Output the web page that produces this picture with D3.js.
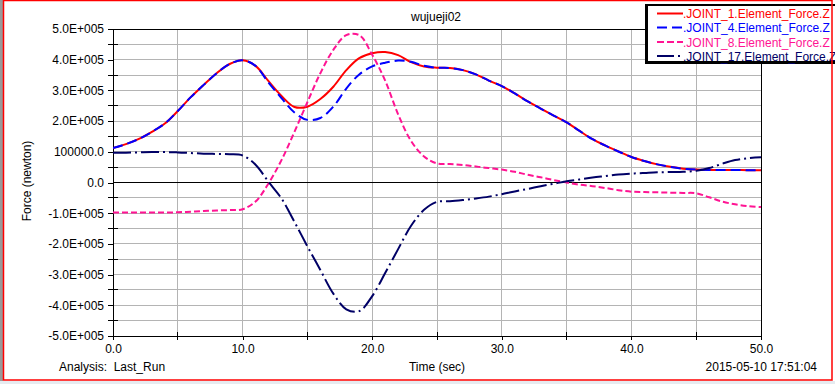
<!DOCTYPE html>
<html>
<head>
<meta charset="utf-8">
<script src="https://cdn.jsdelivr.net/npm/d3@7"></script>
<style>
html,body{margin:0;padding:0;background:#fff;}
svg{display:block;font-family:"Liberation Sans",Arial,sans-serif;}
</style>
</head>
<body>
<svg id="chart" width="835" height="384"></svg>
<script>
// ---- data ----
const title = "wujueji02";
const xLabel = "Time (sec)";
const yLabel = "Force (newton)";
const analysisText = "Analysis:  Last_Run";
const dateText = "2015-05-10 17:51:04";
const seriesNames = [".JOINT_1.Element_Force.Z", ".JOINT_4.Element_Force.Z", ".JOINT_8.Element_Force.Z", ".JOINT_17.Element_Force.Z"];
const time = [0,1,2,3,4,5,6,7,8,9,10,11,12,13,14,15,16,17,18,19,20,21,22,23,24,25,26,27,28,29,30,31,32,33,34,35,36,37,38,39,40,41,42,43,44,45,46,47,48,49,50];
// values in thousands of newton
const joint1 = [112,125,142,165,192,233,278,318,356,386,398,380,330,282,246,247,272,312,366,405,421,425,415,392,378,374,373,366,352,332,314,290,264,241,218,196,168,141,120,101,83,70,59,51,45,42,41,41,41,40,40];
const joint4 = [112,125,142,165,192,233,278,318,356,386,398,380,325,275,228,204,210,247,306,352,378,390,397,393,380,374,373,366,352,332,314,290,264,241,218,196,168,141,120,101,83,70,59,51,45,42,41,41,41,40,40];
const joint8 = [-98,-98,-98,-98,-98,-97,-95,-93,-91,-90,-87,-62,-3,73,165,262,356,432,480,480,416,332,222,135,85,62,60,57,52,47,42,35,25,17,8,0,-7,-12,-18,-25,-30,-31,-32,-33,-34,-35,-48,-62,-71,-77,-80];
const joint17 = [97,97,98,99,99,98,96,94,93,92,88,58,2,-52,-128,-208,-285,-362,-413,-419,-370,-295,-217,-141,-89,-63,-61,-57,-52,-46,-38,-29,-21,-12,-4,4,10,16,21,26,29,31,33,34,35,38,47,61,73,79,82];
const yTicks = [-500000,-400000,-300000,-200000,-100000,0,100000,200000,300000,400000,500000];
const yTickLabels = ["-5.0E+005","-4.0E+005","-3.0E+005","-2.0E+005","-1.0E+005","0.0","100000.0","2.0E+005","3.0E+005","4.0E+005","5.0E+005"];
const xTicks = [0,10,20,30,40,50];
const xTickLabels = ["0.0","10.0","20.0","30.0","40.0","50.0"];

const colors = ["#ff0000","#0000ff","#ff1493","#000066"];
const dashes = [null,"10,5","6,3","18,4,2,4"];
const legendDashes = [null,"10,5","7,3","17,4,2,4"];
const seriesData = [joint1, joint4, joint8, joint17];

// ---- chart ----
const svg = d3.select("#chart");
const L = 113, R = 761, T = 29, B = 336;
const x = d3.scaleLinear().domain([0,50]).range([L,R]);
const y = d3.scaleLinear().domain([-500000,500000]).range([B,T]);

// outer decorations
svg.append("rect").attr("x",0).attr("y",0).attr("width",3).attr("height",384).attr("fill","#9a9a9a");
svg.append("rect").attr("x",0).attr("y",381).attr("width",835).attr("height",3).attr("fill","#e6ebf0");

// grid
const g = svg.append("g");
d3.range(0,50.01,5).forEach(v=>{
  g.append("line").attr("x1",x(v)).attr("x2",x(v)).attr("y1",T).attr("y2",B)
   .attr("stroke","#b4b4b4").attr("stroke-width",1).attr("shape-rendering","crispEdges");
});
d3.range(-500000,500001,50000).forEach(v=>{
  g.append("line").attr("x1",L).attr("x2",R).attr("y1",y(v)).attr("y2",y(v))
   .attr("stroke","#b4b4b4").attr("stroke-width",1).attr("shape-rendering","crispEdges");
});
g.append("line").attr("x1",L).attr("x2",R).attr("y1",y(0)).attr("y2",y(0))
  .attr("stroke","#000").attr("shape-rendering","crispEdges");
svg.append("rect").attr("x",L).attr("y",T).attr("width",R-L).attr("height",B-T)
  .attr("fill","none").attr("stroke","#000").attr("shape-rendering","crispEdges");

// axes
const yAxis = d3.axisLeft(y).tickValues(yTicks).tickFormat((d,i)=>yTickLabels[i]).tickSizeInner(5).tickSizeOuter(0).tickPadding(4);
const ya = svg.append("g").attr("transform",`translate(${L},0)`).call(yAxis);
const xAxis = d3.axisBottom(x).tickValues(xTicks).tickFormat((d,i)=>xTickLabels[i]).tickSizeInner(4).tickSizeOuter(0).tickPadding(4);
const xa = svg.append("g").attr("transform",`translate(0,${B})`).call(xAxis);
[ya,xa].forEach(a=>{
  a.select(".domain").remove();
  a.selectAll("text").attr("font-size",12).attr("fill","#000").attr("font-family","Liberation Sans, Arial, sans-serif");
  a.selectAll("line").attr("shape-rendering","crispEdges");
});
const minorY = d3.range(-450000,450001,100000);
svg.append("g").selectAll("line").data(minorY).join("line")
  .attr("x1",L-5).attr("x2",L+5).attr("y1",d=>y(d)).attr("y2",d=>y(d))
  .attr("stroke","#000").attr("shape-rendering","crispEdges");
const minorX = [5,15,25,35,45];
svg.append("g").selectAll("line").data(minorX).join("line")
  .attr("x1",d=>x(d)).attr("x2",d=>x(d)).attr("y1",B-4).attr("y2",B+4)
  .attr("stroke","#000").attr("shape-rendering","crispEdges");

// lines
const line = d3.line().x((d,i)=>x(time[i])).y(d=>y(d*1000)).curve(d3.curveCatmullRom.alpha(0.5));
svg.append("clipPath").attr("id","pc").append("rect").attr("x",L).attr("y",T).attr("width",R-L).attr("height",B-T);
const lg = svg.append("g").attr("clip-path","url(#pc)");
seriesData.forEach((s,i)=>{
  lg.append("path").attr("d",line(s)).attr("fill","none").attr("stroke",colors[i])
    .attr("stroke-width",2).attr("stroke-dasharray",dashes[i]);
});

// title & labels
svg.append("text").attr("x",436).attr("y",21).attr("text-anchor","middle").attr("font-size",12).text(title);
svg.append("text").attr("transform","translate(31,181) rotate(-90)").attr("text-anchor","middle").attr("font-size",12).text(yLabel);
svg.append("text").attr("x",59).attr("y",371).attr("font-size",12).style("white-space","pre").text(analysisText);
svg.append("text").attr("x",(L+R)/2).attr("y",371).attr("text-anchor","middle").attr("font-size",12).text(xLabel);
svg.append("text").attr("x",817).attr("y",371).attr("text-anchor","end").attr("font-size",12).text(dateText);

// legend
const leg = svg.append("g");
leg.append("rect").attr("x",645).attr("y",4).attr("width",200).attr("height",60).attr("fill","#000");
leg.append("rect").attr("x",648).attr("y",6).attr("width",200).attr("height",55).attr("fill","#fff");
const rowY = [13.5,27.5,42,56];
seriesNames.forEach((n,i)=>{
  leg.append("line").attr("x1",657).attr("x2",683).attr("y1",rowY[i]).attr("y2",rowY[i])
    .attr("stroke",colors[i]).attr("stroke-width",2).attr("stroke-dasharray",legendDashes[i]);
  leg.append("text").attr("x",683).attr("y",rowY[i]+4.5).attr("font-size",12).attr("fill",colors[i]).text(n);
});

// outer red frame
svg.append("rect").attr("x",3.5).attr("y",0.5).attr("width",828.5).attr("height",379.5)
  .attr("fill","none").attr("stroke","#ff0000").attr("stroke-width",1.5);
</script>
</body>
</html>
